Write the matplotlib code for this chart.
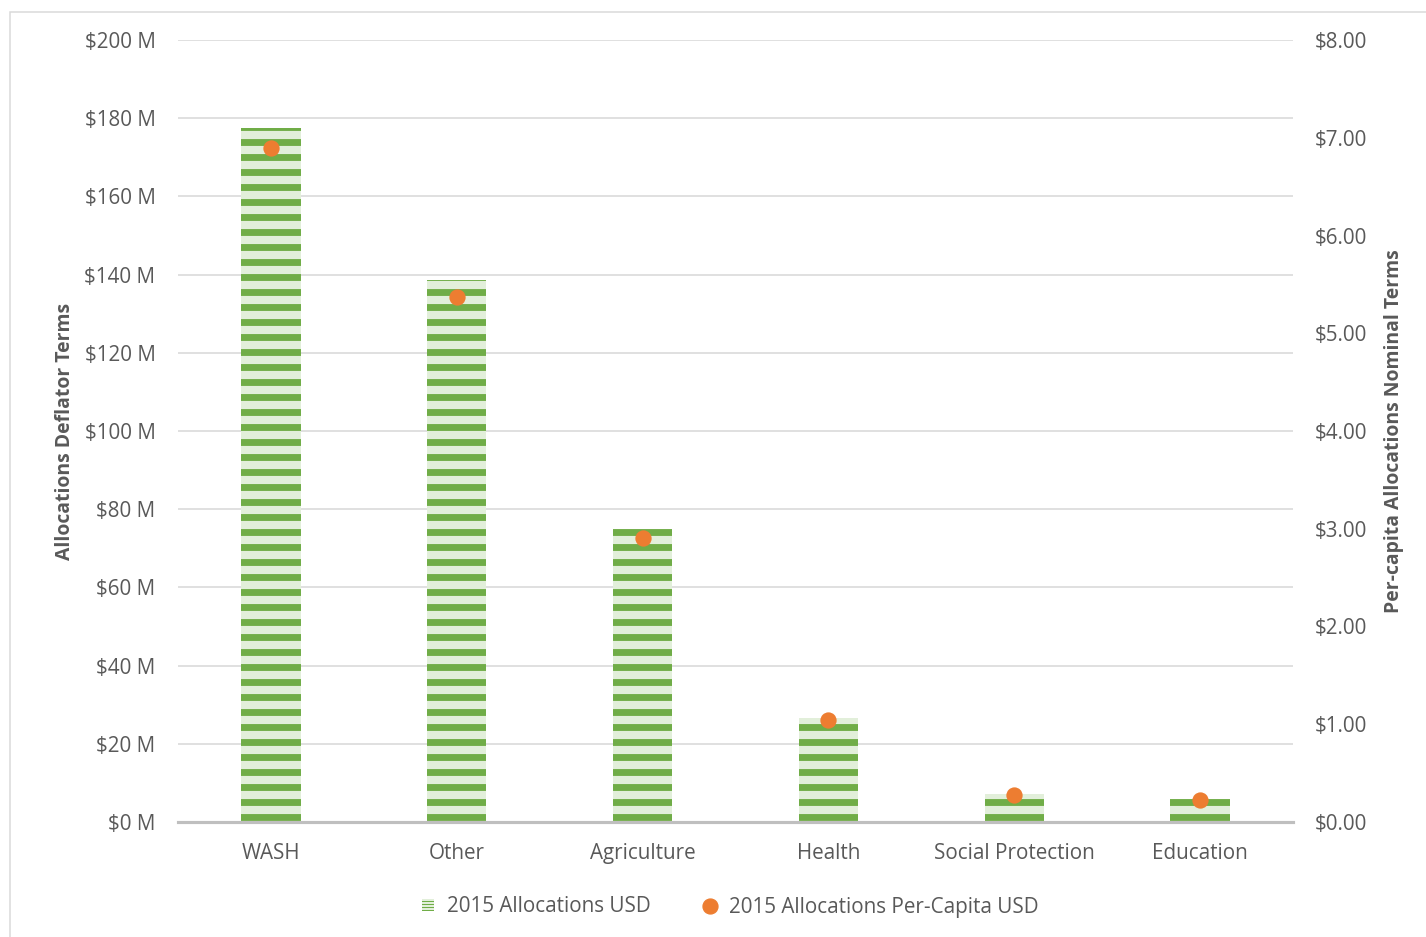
import numpy as np
import matplotlib.pyplot as plt
from matplotlib.patches import Patch, Rectangle
from matplotlib.lines import Line2D
from matplotlib.ticker import FuncFormatter, MultipleLocator
from matplotlib.legend_handler import HandlerBase

categories = ['WASH', 'Other', 'Agriculture', 'Health', 'Social Protection', 'Education']
alloc_usd_m = [177.5, 138.6, 74.9, 26.6, 7.2, 5.9]
per_capita_usd = [6.90, 5.37, 2.91, 1.04, 0.28, 0.23]

green_dark = '#70AD47'
green_light = '#E2EFDA'
orange = '#ED7D31'
text_col = '#595959'

plt.rcParams['font.family'] = ['Open Sans', 'DejaVu Sans']
plt.rcParams['hatch.linewidth'] = 5.5
plt.rcParams['hatch.color'] = green_dark


class StripedHandler(HandlerBase):
    # small striped square for the bar series in the legend
    def create_artists(self, legend, orig_handle, xdescent, ydescent, width, height,
                       fontsize, trans):
        side = min(width, height)
        x0 = -xdescent + (width - side) / 2
        y0 = -ydescent + (height - side) / 2
        arts = [Rectangle((x0, y0), side, side, facecolor=green_light,
                          edgecolor='none', transform=trans)]
        n = 4
        step = side / n
        for i in range(n):
            arts.append(Rectangle((x0, y0 + i * step), side, step * 0.5,
                                  facecolor=green_dark, edgecolor='none',
                                  transform=trans))
        return arts


fig = plt.figure(figsize=(1426 / 90, 937 / 90), dpi=90)
ax = fig.add_axes([178 / 1426, 1 - 822 / 937, (1293 - 178) / 1426, (822 - 40) / 937])
axx = ax.twinx()

x = np.arange(len(categories))
ax.bar(x, alloc_usd_m, width=0.32, color=green_light, edgecolor=green_dark,
       hatch='-', linewidth=0, zorder=2)
ax.set_xlim(-0.5, len(categories) - 0.5)
ax.set_ylim(0, 200)
ax.yaxis.set_major_locator(MultipleLocator(20))
ax.yaxis.set_major_formatter(FuncFormatter(lambda v, p: f'${v:.0f} M'))
ax.set_xticks(x)
ax.set_xticklabels(categories)
ax.grid(axis='y', color='#D9D9D9', linewidth=1.3, zorder=0)
ax.set_axisbelow(True)
ax.set_ylabel('Allocations Deflator Terms', fontsize=15.5, fontweight='bold',
              color=text_col, labelpad=8)

axx.scatter(x, per_capita_usd, s=170, color=orange, zorder=5, linewidths=0)
axx.set_ylim(0, 8)
axx.yaxis.set_major_locator(MultipleLocator(1))
axx.yaxis.set_major_formatter(FuncFormatter(lambda v, p: f'${v:.2f}'))
axx.set_ylabel('Per-capita Allocations Nominal Terms', fontsize=15.5, fontweight='bold',
               color=text_col, labelpad=14)

for a in (ax, axx):
    for s in ('top', 'left', 'right', 'bottom'):
        a.spines[s].set_visible(False)
    a.tick_params(length=0, labelsize=16.5, colors=text_col)
ax.tick_params(axis='y', pad=18)
axx.tick_params(axis='y', pad=17)
ax.tick_params(axis='x', pad=17)
ax.axhline(0, color='#BFBFBF', linewidth=2.5, zorder=3, clip_on=False)

handles = [Patch(facecolor=green_light), 
           Line2D([], [], marker='o', linestyle='', color=orange, markersize=12)]
fig.legend(handles, ['2015 Allocations USD', '2015 Allocations Per-Capita USD'],
           loc='center', bbox_to_anchor=(0.512, 1 - 907 / 937), ncol=2, frameon=False,
           fontsize=16.5, labelcolor=text_col, handlelength=0.6, handleheight=0.6,
           columnspacing=2.6, handletextpad=0.6,
           handler_map={Patch: StripedHandler()})

fig.patches.append(Rectangle((10 / 1426, -0.01), 1.02, 1 - 12 / 937 + 0.01,
                             transform=fig.transFigure, fill=False,
                             edgecolor='#D9D9D9', linewidth=1.2))

fig.savefig('out.png', dpi=90)
